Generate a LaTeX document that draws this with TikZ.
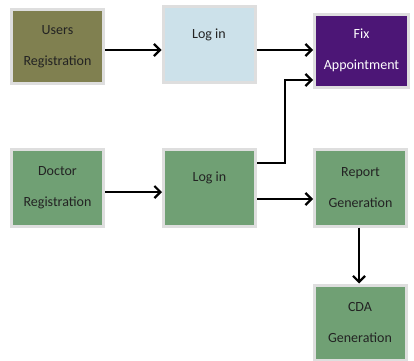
\documentclass[tikz,border=0pt]{standalone}
\usepackage{fontspec}
\setmainfont{Carlito}
\usepackage{tikz}
\usetikzlibrary{arrows.meta}
\definecolor{olivebox}{RGB}{128,128,80}
\definecolor{bluebox}{RGB}{204,225,234}
\definecolor{purplebox}{RGB}{76,22,118}
\definecolor{greenbox}{RGB}{112,160,116}
\definecolor{edgegray}{RGB}{222,222,222}
\definecolor{textgray}{RGB}{35,35,35}
\tikzset{font={\fontsize{14pt}{17}\selectfont}}

\begin{document}
\begin{tikzpicture}[x=1pt,y=1pt,
  box/.style={draw=edgegray,line width=3pt,minimum width=92pt,minimum height=74pt,align=center,text=textgray,inner sep=0pt},
  arr/.style={line width=2.4pt,-{Straight Barb[length=6pt,width=12pt,line width=2.2pt]}}]
\useasboundingbox (0,0) rectangle (414,360);

%boxes, top row
\node[box,fill=olivebox] at (57.5,313.5) (userreg) {Users\\[14pt]Registration};
\node[box,fill=bluebox,minimum height=76pt] at (209,316) (loginu) {Log in\\[4pt]\mbox{}};
\node[box,fill=purplebox,text=white,minimum width=94pt,minimum height=73pt] at (361.5,309.5) (fixapp) {Fix\\[14pt]Appointment};

%boxes, doctor row
\node[box,fill=greenbox,minimum height=77pt] at (57.5,172.5) (docreg) {Doctor\\[14pt]Registration};
\node[box,fill=greenbox,minimum height=77pt] at (209.5,172.5) (logind) {Log in\\[4pt]\mbox{}};
\node[box,fill=greenbox,minimum height=77pt] at (360.5,172.5) (report) {Report\\[14pt]Generation};
\node[box,fill=greenbox,minimum height=75pt] at (360,37.5) (cda) {CDA\\[14pt]Generation};

%connectors
\draw[arr] (userreg.east |- 0,310) -- (loginu.west |- 0,310);
\draw[arr] (loginu.east |- 0,310) -- (fixapp.west |- 0,310);
\draw[arr] (logind.east |- 0,197) -- (285,197) -- (285,280) -- (fixapp.west |- 0,280);
\draw[arr] (docreg.east |- 0,168) -- (logind.west |- 0,168);
\draw[arr] (logind.east |- 0,161) -- (report.west |- 0,161);
\draw[arr] (report.south -| 359,0) -- (cda.north -| 359,0);

\end{tikzpicture}
\end{document}
